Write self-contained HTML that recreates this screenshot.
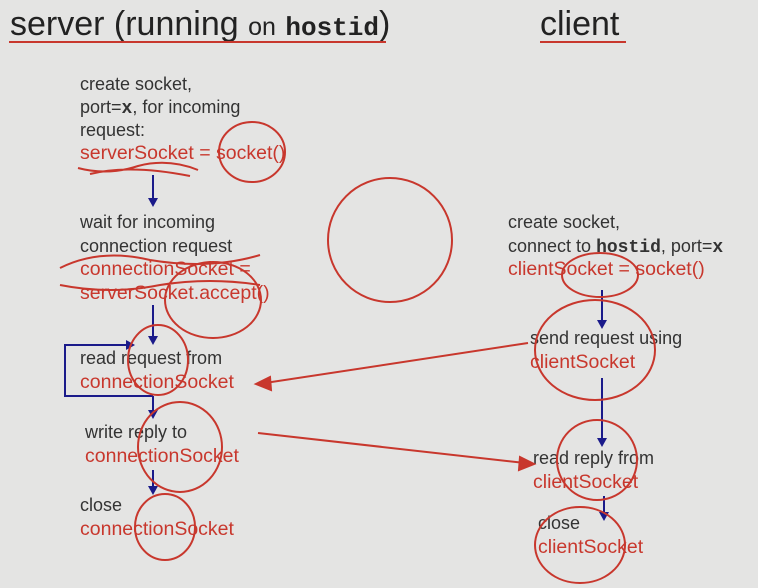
<!DOCTYPE html>
<html><head><style>
body{margin:0;width:758px;height:588px;background:#e4e4e3;overflow:hidden}
svg{display:block}
text{font-family:"Liberation Sans",sans-serif;font-size:18px;fill:#333}
.r{fill:#c8372d;font-size:19.5px}
.m{font-family:"Liberation Mono",monospace;font-weight:bold}
</style></head><body>
<svg width="758" height="588" viewBox="0 0 758 588">
<text x="10" y="35" style="font-size:34px;fill:#222">server (running <tspan style="font-size:25px">on</tspan> <tspan class="m" style="font-size:26px;fill:#222">hostid</tspan>)</text>
<line x1="9" y1="42" x2="386" y2="42" stroke="#c8372d" stroke-width="2"/>
<text x="540" y="35" style="font-size:34px;fill:#222">client</text>
<line x1="540" y1="42" x2="626" y2="42" stroke="#c8372d" stroke-width="2"/>

<text x="80" y="90">create socket,</text>
<text x="80" y="113">port=<tspan class="m">x</tspan>, for incoming</text>
<text x="80" y="136">request:</text>
<text x="80" y="159" class="r">serverSocket = socket()</text>

<text x="80" y="228">wait for incoming</text>
<text x="80" y="252">connection request</text>
<text x="80" y="275" class="r">connectionSocket =</text>
<text x="80" y="299" class="r">serverSocket.accept()</text>

<text x="80" y="364">read request from</text>
<text x="80" y="388" class="r">connectionSocket</text>
<text x="85" y="438">write reply to</text>
<text x="85" y="462" class="r">connectionSocket</text>
<text x="80" y="511">close</text>
<text x="80" y="535" class="r">connectionSocket</text>

<text x="508" y="228">create socket,</text>
<text x="508" y="252">connect to <tspan class="m">hostid</tspan>, port=<tspan class="m">x</tspan></text>
<text x="508" y="275" class="r">clientSocket = socket()</text>
<text x="530" y="344">send request using</text>
<text x="530" y="368" class="r">clientSocket</text>
<text x="533" y="464">read reply from</text>
<text x="533" y="488" class="r">clientSocket</text>
<text x="538" y="529">close</text>
<text x="538" y="553" class="r">clientSocket</text>

<g stroke="#1a1a8a" stroke-width="2" fill="#1a1a8a">
<line x1="153" y1="175" x2="153" y2="200"/><polygon points="148,198 158,198 153,207" stroke="none"/>
<line x1="153" y1="305" x2="153" y2="338"/><polygon points="148,336 158,336 153,345" stroke="none"/>
<line x1="153" y1="396" x2="153" y2="412"/><polygon points="148,410 158,410 153,419" stroke="none"/>
<line x1="153" y1="470" x2="153" y2="488"/><polygon points="148,486 158,486 153,495" stroke="none"/>
<polyline points="153,396 65,396 65,345 128,345" fill="none"/><polygon points="126,340 126,350 135,345" stroke="none"/>
<line x1="602" y1="290" x2="602" y2="322"/><polygon points="597,320 607,320 602,329" stroke="none"/>
<line x1="602" y1="378" x2="602" y2="440"/><polygon points="597,438 607,438 602,447" stroke="none"/>
<line x1="604" y1="496" x2="604" y2="514"/><polygon points="599,512 609,512 604,521" stroke="none"/>
</g>

<g stroke="#c8372d" stroke-width="2" fill="none">
<line x1="528" y1="343" x2="265" y2="383"/><polygon points="256,384 270,377 271,390" fill="#c8372d"/>
<line x1="258" y1="433" x2="525" y2="463"/><polygon points="534,464 520,457 519,470" fill="#c8372d"/>
<ellipse cx="252" cy="152" rx="33" ry="30"/>
<path d="M78 168 q30 8 60 -2 q30 -8 60 4 M90 174 q40 -10 100 2"/>
<ellipse cx="390" cy="240" rx="62" ry="62"/>
<path d="M60 268 q40 -20 90 -8 q60 10 110 -5 M60 285 q50 10 100 0 q50 -8 100 0"/>
<ellipse cx="213" cy="300" rx="48" ry="38"/>
<ellipse cx="158" cy="360" rx="30" ry="35"/>
<ellipse cx="180" cy="447" rx="42" ry="45"/>
<ellipse cx="165" cy="527" rx="30" ry="33"/>
<ellipse cx="600" cy="275" rx="38" ry="22"/>
<ellipse cx="595" cy="350" rx="60" ry="50"/>
<ellipse cx="597" cy="460" rx="40" ry="40"/>
<ellipse cx="580" cy="545" rx="45" ry="38"/>
</g>
</svg>
</body></html>
